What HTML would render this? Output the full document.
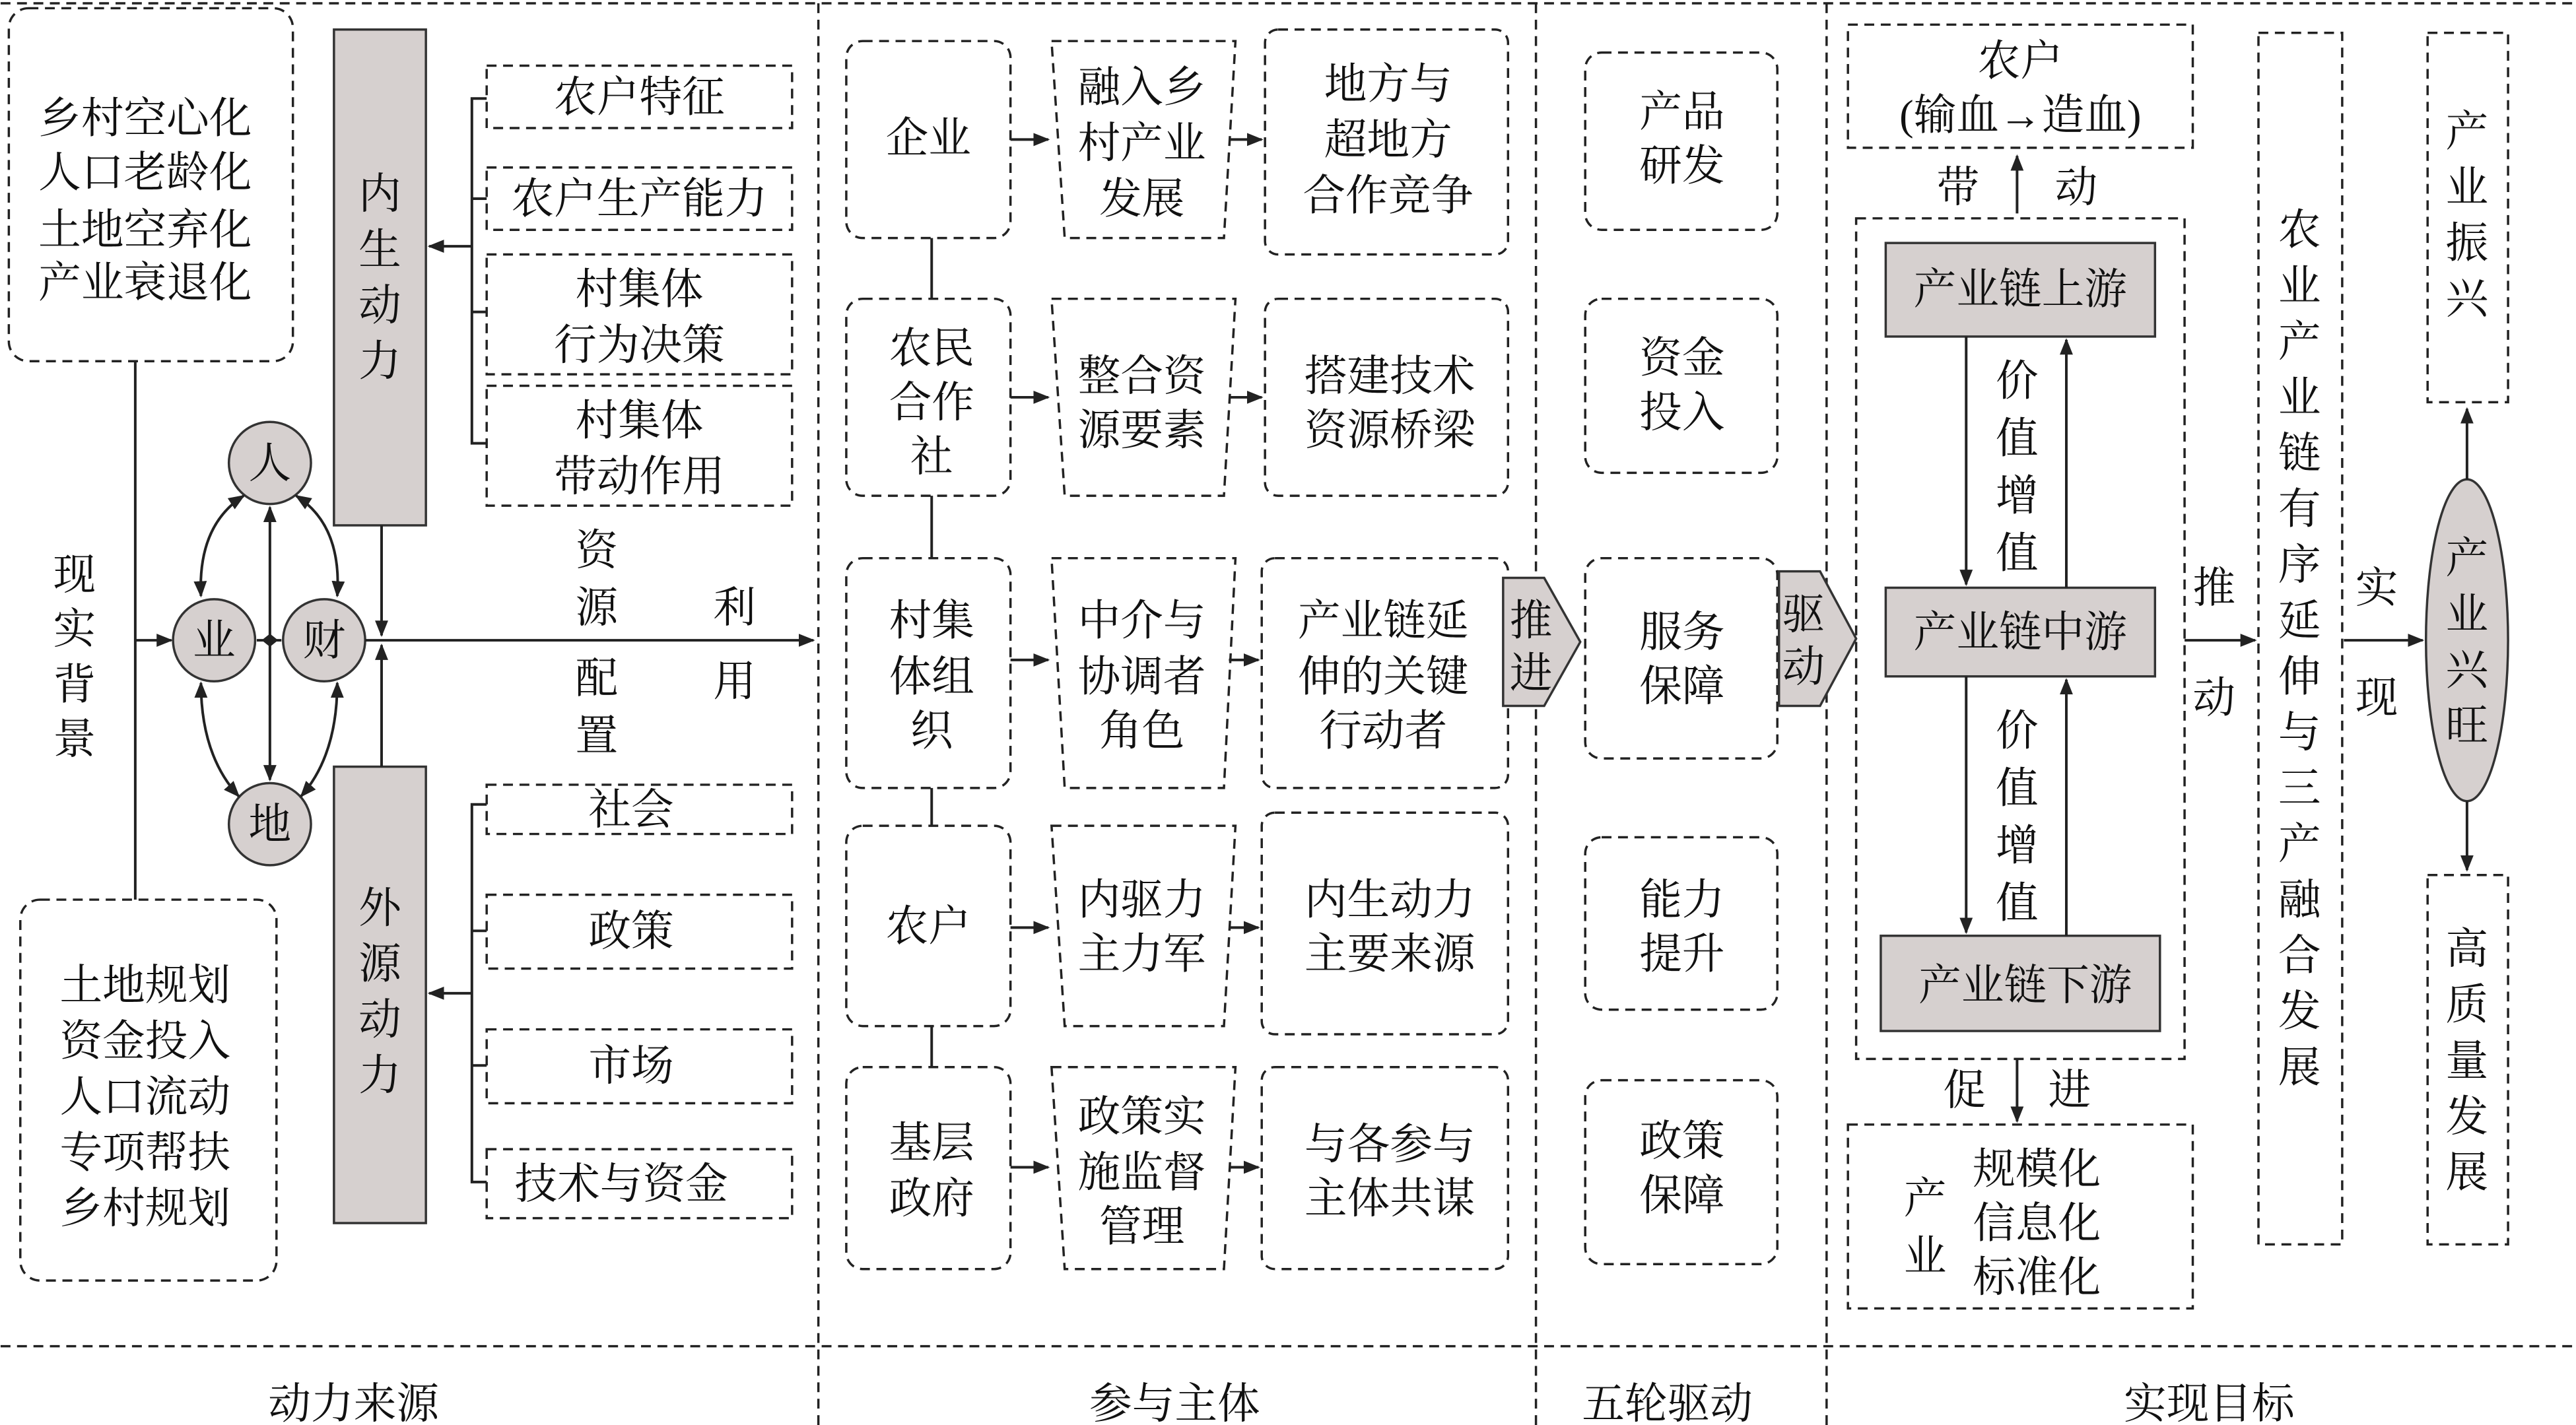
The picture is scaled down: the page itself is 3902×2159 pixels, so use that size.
<!DOCTYPE html>
<html><head><meta charset="utf-8"><style>
html,body{margin:0;padding:0;background:#fff;}
svg{display:block;}
text{font-family:"Liberation Serif","Noto Serif CJK SC",serif;font-size:26px;fill:#111;text-anchor:middle;dominant-baseline:central;}
.d{fill:none;stroke:#222;stroke-width:1.4;stroke-dasharray:6,4;}
.w{fill:#fff;}
.l{fill:none;stroke:#222;stroke-width:1.6;}
.g{fill:#d6d0cf;stroke:#333;stroke-width:1.4;}
</style></head><body>
<svg width="3902" height="2159" viewBox="0 0 1568 868" xmlns="http://www.w3.org/2000/svg">
<defs><marker id="a" markerWidth="10" markerHeight="10" refX="9" refY="5" orient="auto-start-reverse" markerUnits="userSpaceOnUse"><path d="M0,1 L10,5 L0,9 Z" fill="#222"/></marker></defs>
<rect width="1568" height="868" fill="#fff"/>
<line class="d" x1="0" y1="2" x2="1568" y2="2"/>
<line class="d" x1="0" y1="820" x2="1568" y2="820"/>
<line class="d" x1="498" y1="2" x2="498" y2="868"/>
<line class="d" x1="935" y1="2" x2="935" y2="868"/>
<line class="d" x1="1112" y1="2" x2="1112" y2="868"/>
<text x="215" y="855">动力来源</text><text x="715" y="855">参与主体</text><text x="1015" y="855">五轮驱动</text><text x="1345" y="855">实现目标</text>

<!-- left -->
<rect class="d" x="5" y="5" width="173" height="215" rx="12"/>
<text x="88" y="72">乡村空心化</text><text x="88" y="105">人口老龄化</text><text x="88" y="140">土地空弃化</text><text x="88" y="172">产业衰退化</text>
<rect class="d" x="12" y="548" width="156" height="232" rx="12"/>
<text x="88" y="600">土地规划</text><text x="88" y="634">资金投入</text><text x="88" y="668">人口流动</text><text x="88" y="702">专项帮扶</text><text x="88" y="736">乡村规划</text>
<line class="l" x1="82" y1="220" x2="82" y2="548"/>
<text x="45" y="350">现</text><text x="45" y="383">实</text><text x="45" y="417">背</text><text x="45" y="450">景</text>
<line class="l" x1="82" y1="390" x2="104" y2="390" marker-end="url(#a)"/>

<rect class="g" x="203" y="18" width="56" height="302"/>
<text x="231" y="118">内</text><text x="231" y="152">生</text><text x="231" y="186">动</text><text x="231" y="220">力</text>
<rect class="g" x="203" y="467" width="56" height="278"/>
<text x="231" y="553">外</text><text x="231" y="587">源</text><text x="231" y="621">动</text><text x="231" y="655">力</text>

<circle class="g" cx="164" cy="282" r="25"/><text x="164" y="282">人</text>
<circle class="g" cx="130" cy="390" r="25"/><text x="130" y="390">业</text>
<circle class="g" cx="197" cy="390" r="25"/><text x="197" y="390">财</text>
<circle class="g" cx="164" cy="502" r="25"/><text x="164" y="502">地</text>
<path class="l" d="M148,302 Q120,320 122,363" marker-end="url(#a)" marker-start="url(#a)"/>
<path class="l" d="M180,302 Q208,320 205,363" marker-end="url(#a)" marker-start="url(#a)"/>
<path class="l" d="M122,416 Q122,460 145,485" marker-end="url(#a)" marker-start="url(#a)"/>
<path class="l" d="M205,416 Q205,460 183,485" marker-end="url(#a)" marker-start="url(#a)"/>
<line class="l" x1="164" y1="309" x2="164" y2="475" marker-end="url(#a)" marker-start="url(#a)"/>
<line class="l" x1="156" y1="390" x2="171" y2="390"/>
<path d="M159,390 L164,386 L169,390 L164,394 Z" fill="#222"/>
<line class="l" x1="222" y1="390" x2="495" y2="390" marker-end="url(#a)"/>
<line class="l" x1="232" y1="320" x2="232" y2="387" marker-end="url(#a)"/>
<line class="l" x1="232" y1="467" x2="232" y2="393" marker-end="url(#a)"/>
<text x="363" y="335">资</text><text x="363" y="370">源</text><text x="363" y="413">配</text><text x="363" y="448">置</text>
<text x="447" y="370">利</text><text x="447" y="415">用</text>

<rect class="d" x="296" y="40" width="186" height="38"/><text x="389" y="59">农户特征</text>
<rect class="d" x="296" y="102" width="186" height="38"/><text x="389" y="121">农户生产能力</text>
<rect class="d" x="296" y="155" width="186" height="73"/><text x="389" y="176">村集体</text><text x="389" y="210">行为决策</text>
<rect class="d" x="296" y="235" width="186" height="73"/><text x="389" y="256">村集体</text><text x="389" y="290">带动作用</text>
<path class="l" d="M296,60 H287 V270 H296 M287,121 H296 M287,190 H296"/>
<line class="l" x1="287" y1="150" x2="261" y2="150" marker-end="url(#a)"/>
<rect class="d" x="296" y="478" width="186" height="30"/><text x="384" y="493">社会</text>
<rect class="d" x="296" y="545" width="186" height="45"/><text x="384" y="567">政策</text>
<rect class="d" x="296" y="627" width="186" height="45"/><text x="384" y="649">市场</text>
<rect class="d" x="296" y="700" width="186" height="42"/><text x="378" y="721">技术与资金</text>
<path class="l" d="M296,490 H287 V720 H296 M287,567 H296 M287,649 H296"/>
<line class="l" x1="287" y1="605" x2="261" y2="605" marker-end="url(#a)"/>

<!-- middle -->
<line class="l" x1="567" y1="145" x2="567" y2="182"/>
<line class="l" x1="567" y1="302" x2="567" y2="340"/>
<line class="l" x1="567" y1="480" x2="567" y2="503"/>
<line class="l" x1="567" y1="625" x2="567" y2="650"/>
<g>
<rect class="d" x="515" y="25" width="100" height="120" rx="10"/><text x="565" y="84">企业</text>
<rect class="d" x="515" y="182" width="100" height="120" rx="10"/><text x="567" y="212">农民</text><text x="567" y="245">合作</text><text x="567" y="278">社</text>
<rect class="d" x="515" y="340" width="100" height="140" rx="10"/><text x="567" y="378">村集</text><text x="567" y="412">体组</text><text x="567" y="445">织</text>
<rect class="d" x="515" y="503" width="100" height="122" rx="10"/><text x="565" y="564">农户</text>
<rect class="d" x="515" y="650" width="100" height="123" rx="10"/><text x="567" y="696">基层</text><text x="567" y="730">政府</text>
</g>
<g>
<polygon class="d" points="640,25 752,25 745,145 648,145"/><text x="695" y="53">融入乡</text><text x="695" y="87">村产业</text><text x="695" y="121">发展</text>
<polygon class="d" points="640,182 752,182 745,302 648,302"/><text x="695" y="229">整合资</text><text x="695" y="262">源要素</text>
<polygon class="d" points="640,340 752,340 745,480 648,480"/><text x="695" y="378">中介与</text><text x="695" y="412">协调者</text><text x="695" y="445">角色</text>
<polygon class="d" points="640,503 752,503 745,625 648,625"/><text x="695" y="548">内驱力</text><text x="695" y="581">主力军</text>
<polygon class="d" points="640,650 752,650 745,773 648,773"/><text x="695" y="680">政策实</text><text x="695" y="714">施监督</text><text x="695" y="747">管理</text>
</g>
<g>
<rect class="d" x="770" y="18" width="148" height="137" rx="8"/><text x="845" y="51">地方与</text><text x="845" y="85">超地方</text><text x="845" y="119">合作竞争</text>
<rect class="d" x="770" y="182" width="148" height="120" rx="8"/><text x="846" y="229">搭建技术</text><text x="846" y="262">资源桥梁</text>
<rect class="d" x="768" y="340" width="150" height="140" rx="8"/><text x="842" y="378">产业链延</text><text x="842" y="412">伸的关键</text><text x="842" y="445">行动者</text>
<rect class="d" x="768" y="495" width="150" height="135" rx="8"/><text x="846" y="548">内生动力</text><text x="846" y="581">主要来源</text>
<rect class="d" x="768" y="650" width="150" height="123" rx="8"/><text x="846" y="697">与各参与</text><text x="846" y="730">主体共谋</text>
</g>
<g>
<line class="l" x1="615" y1="85" x2="638" y2="85" marker-end="url(#a)"/><line class="l" x1="748" y1="85" x2="768" y2="85" marker-end="url(#a)"/>
<line class="l" x1="615" y1="242" x2="638" y2="242" marker-end="url(#a)"/><line class="l" x1="748" y1="242" x2="768" y2="242" marker-end="url(#a)"/>
<line class="l" x1="615" y1="402" x2="638" y2="402" marker-end="url(#a)"/><line class="l" x1="748" y1="402" x2="766" y2="402" marker-end="url(#a)"/>
<line class="l" x1="615" y1="565" x2="638" y2="565" marker-end="url(#a)"/><line class="l" x1="748" y1="565" x2="766" y2="565" marker-end="url(#a)"/>
<line class="l" x1="615" y1="711" x2="638" y2="711" marker-end="url(#a)"/><line class="l" x1="748" y1="711" x2="766" y2="711" marker-end="url(#a)"/>
</g>

<!-- five -->
<rect class="d" x="965" y="32" width="117" height="108" rx="10"/><text x="1024" y="68">产品</text><text x="1024" y="101">研发</text>
<rect class="d" x="965" y="182" width="117" height="106" rx="10"/><text x="1024" y="218">资金</text><text x="1024" y="251">投入</text>
<rect class="d" x="965" y="340" width="117" height="122" rx="10"/><text x="1024" y="385">服务</text><text x="1024" y="418">保障</text>
<rect class="d" x="965" y="510" width="117" height="105" rx="10"/><text x="1024" y="548">能力</text><text x="1024" y="581">提升</text>
<rect class="d" x="965" y="658" width="117" height="112" rx="10"/><text x="1024" y="695">政策</text><text x="1024" y="728">保障</text>
<polygon class="g" points="915,352 940,352 962,391 940,430 915,430"/><text x="932" y="378">推</text><text x="932" y="410">进</text>
<polygon class="g" points="1083,348 1108,348 1130,389 1108,430 1083,430"/><text x="1098" y="374">驱</text><text x="1098" y="406">动</text>

<!-- goals -->
<rect class="d" x="1125" y="15" width="210" height="75"/><text x="1230" y="37">农户</text><text x="1230" y="70">(输血→造血)</text>
<line class="l" x1="1228" y1="130" x2="1228" y2="95" marker-end="url(#a)"/>
<text x="1192" y="114">带</text><text x="1264" y="114">动</text>
<rect class="d" x="1130" y="133" width="200" height="512"/>
<rect class="g" x="1148" y="148" width="164" height="57"/><text x="1230" y="176">产业链上游</text>
<rect class="g" x="1148" y="358" width="164" height="54"/><text x="1230" y="385">产业链中游</text>
<rect class="g" x="1145" y="570" width="170" height="58"/><text x="1233" y="600">产业链下游</text>
<line class="l" x1="1197" y1="205" x2="1197" y2="356" marker-end="url(#a)"/>
<line class="l" x1="1258" y1="358" x2="1258" y2="207" marker-end="url(#a)"/>
<line class="l" x1="1197" y1="412" x2="1197" y2="568" marker-end="url(#a)"/>
<line class="l" x1="1258" y1="570" x2="1258" y2="414" marker-end="url(#a)"/>
<text x="1228" y="232">价</text><text x="1228" y="267">值</text><text x="1228" y="302">增</text><text x="1228" y="337">值</text>
<text x="1228" y="445">价</text><text x="1228" y="480">值</text><text x="1228" y="515">增</text><text x="1228" y="550">值</text>
<line class="l" x1="1228" y1="645" x2="1228" y2="683" marker-end="url(#a)"/>
<text x="1196" y="664">促</text><text x="1260" y="664">进</text>
<rect class="d" x="1125" y="685" width="210" height="112"/>
<text x="1172" y="730">产</text><text x="1172" y="765">业</text>
<text x="1240" y="712">规模化</text><text x="1240" y="745">信息化</text><text x="1240" y="778">标准化</text>
<rect class="d" x="1375" y="20" width="51" height="738"/>
<g><text x="1400" y="140">农</text><text x="1400" y="174">业</text><text x="1400" y="208">产</text><text x="1400" y="242">业</text><text x="1400" y="276">链</text><text x="1400" y="310">有</text><text x="1400" y="344">序</text><text x="1400" y="378">延</text><text x="1400" y="412">伸</text><text x="1400" y="446">与</text><text x="1400" y="480">三</text><text x="1400" y="514">产</text><text x="1400" y="548">融</text><text x="1400" y="582">合</text><text x="1400" y="616">发</text><text x="1400" y="650">展</text></g>
<line class="l" x1="1330" y1="390" x2="1373" y2="390" marker-end="url(#a)"/>
<text x="1348" y="358">推</text><text x="1348" y="425">动</text>
<line class="l" x1="1427" y1="390" x2="1475" y2="390" marker-end="url(#a)"/>
<text x="1447" y="358">实</text><text x="1447" y="425">现</text>
<ellipse class="g" cx="1502" cy="390" rx="25" ry="98"/>
<text x="1502" y="340">产</text><text x="1502" y="374">业</text><text x="1502" y="408">兴</text><text x="1502" y="442">旺</text>
<rect class="d" x="1478" y="20" width="49" height="225"/>
<text x="1502" y="80">产</text><text x="1502" y="114">业</text><text x="1502" y="148">振</text><text x="1502" y="182">兴</text>
<line class="l" x1="1502" y1="292" x2="1502" y2="249" marker-end="url(#a)"/>
<rect class="d" x="1478" y="533" width="49" height="225"/>
<text x="1502" y="578">高</text><text x="1502" y="612">质</text><text x="1502" y="646">量</text><text x="1502" y="680">发</text><text x="1502" y="714">展</text>
<line class="l" x1="1502" y1="488" x2="1502" y2="530" marker-end="url(#a)"/>
</svg>
</body></html>
